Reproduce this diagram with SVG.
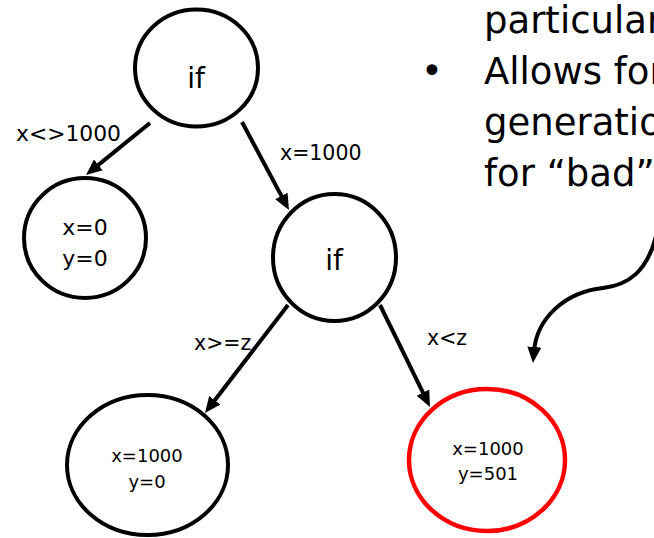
<svg xmlns="http://www.w3.org/2000/svg" width="654" height="538" viewBox="0 0 654 538">
<style>
text{font-family:"DejaVu Sans","Verdana",sans-serif;fill:#000}
.node{fill:#fff;stroke:#000;stroke-width:4}
.bad{fill:#fff;stroke:#f00;stroke-width:4.5}
.edge{fill:none;stroke:#000;stroke-width:4;marker-end:url(#ah)}
.lbl{font-size:20.5px}
.big{font-size:28px}
.mid{font-size:22px}
.sm{font-size:18px}
.bul{font-size:37px}
</style>
<defs>
<marker id="ah" markerUnits="userSpaceOnUse" markerWidth="18" markerHeight="16" refX="4" refY="7" orient="auto" viewBox="0 0 18 16">
<path d="M0,0 L16,7 L0,14 z" fill="#000"/>
</marker>
</defs>
<g id="bullets">
<text class="bul" x="484" y="33">particular</text>
<text class="bul" x="432" y="84" text-anchor="middle">•</text>
<text class="bul" x="484" y="84">Allows for</text>
<text class="bul" x="484" y="135">generation</text>
<text class="bul" x="484" y="186">for “bad”</text>
</g>
<g id="connectors">
<line class="edge" x1="150" y1="123" x2="95.3" y2="167.4"/>
<line class="edge" x1="242" y1="122" x2="283.3" y2="199.4"/>
<line class="edge" x1="288" y1="305" x2="212.3" y2="403.5"/>
<line class="edge" x1="380" y1="305" x2="424.7" y2="396.2"/>
<path class="edge" d="M657 232 C648 272 628 285 603 288 C565 292 537 318 534 351"/>
<text class="lbl" x="16" y="141" textLength="105" lengthAdjust="spacingAndGlyphs">x&lt;&gt;1000</text>
<text class="lbl" x="280" y="160">x=1000</text>
<text class="lbl" x="194" y="350">x&gt;=z</text>
<text class="lbl" x="427" y="345">x&lt;z</text>
</g>
<g id="n_if1">
<ellipse class="node" cx="196.5" cy="68" rx="61.5" ry="58.5"/>
<text class="big" x="196" y="88" text-anchor="middle">if</text>
</g>
<g id="n_x0y0">
<ellipse class="node" cx="85" cy="238" rx="61" ry="60"/>
<text class="mid" x="85" y="235" text-anchor="middle">x=0</text>
<text class="mid" x="85" y="266" text-anchor="middle">y=0</text>
</g>
<g id="n_if2">
<ellipse class="node" cx="334.5" cy="257.5" rx="61.5" ry="63.5"/>
<text class="big" x="334" y="270" text-anchor="middle">if</text>
</g>
<g id="n_x1000y0">
<ellipse class="node" cx="147.5" cy="465" rx="80.5" ry="70"/>
<text class="sm" x="147" y="462" text-anchor="middle">x=1000</text>
<text class="sm" x="147" y="488" text-anchor="middle">y=0</text>
</g>
<g id="n_x1000y501">
<ellipse class="bad" cx="487" cy="460" rx="78" ry="71"/>
<text class="sm" x="488" y="455" text-anchor="middle">x=1000</text>
<text class="sm" x="488" y="480" text-anchor="middle">y=501</text>
</g>
</svg>
